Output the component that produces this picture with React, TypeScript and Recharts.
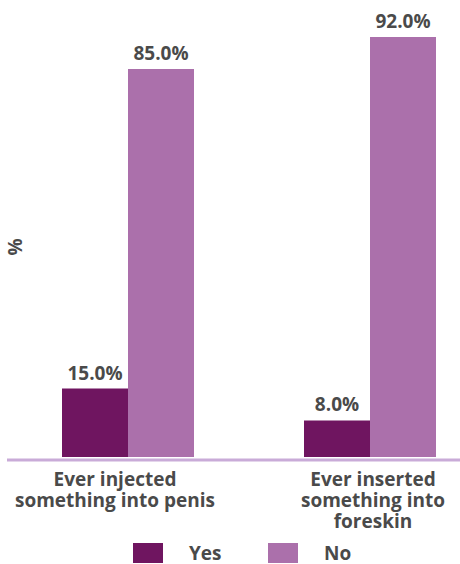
import React from 'react';
import { BarChart, Bar, XAxis, YAxis, Legend, LabelList, Label } from 'recharts';

const categoryLines: string[][] = [
  ['Ever injected', 'something into penis'],
  ['Ever inserted', 'something into', 'foreskin'],
];
const categories = categoryLines.map((l) => l.join(' '));
const yesValues = [15, 8];
const noValues = [85, 92];
const seriesNames = ['Yes', 'No'];
const yDomain = [0, 92];

const COLORS = { yes: '#6f1560', no: '#ab70ab' };
const TEXT = '#4a4a4a';
const FONT = '"Open Sans", "Noto Sans", sans-serif';
const TICK_SHIFT = [-13, 3];

const data = categories.map((c, i) => ({ category: c, yes: yesValues[i], no: noValues[i] }));

const CategoryTick = (props: any) => {
  const { x, y, payload, index } = props;
  const lines = categoryLines[index ?? payload.index] || [payload.value];
  return (
    <g transform={`translate(${x + (TICK_SHIFT[index] || 0)},${y})`}>
      <text textAnchor="middle" fontFamily={FONT} fontWeight={700} fontSize={19} fill={TEXT}>
        {lines.map((l, i) => (
          <tspan key={i} x={0} y={29 + i * 21}>
            {l}
          </tspan>
        ))}
      </text>
    </g>
  );
};

const LegendContent = (props: any) => {
  const payload = [...(props.payload || [])].sort(
    (a: any, b: any) => seriesNames.indexOf(a.value) - seriesNames.indexOf(b.value)
  );
  return (
    <div style={{ display: 'flex', paddingLeft: 133, height: 22, alignItems: 'center', fontFamily: FONT }}>
      {payload.map((p: any, i: number) => (
        <div key={i} style={{ display: 'flex', alignItems: 'center', width: 135, height: 22 }}>
          <div style={{ width: 30, height: 20, background: p.color, marginRight: 26 }} />
          <span style={{ fontSize: 19, lineHeight: '20px', fontWeight: 700, color: TEXT }}>{p.value}</span>
        </div>
      ))}
    </div>
  );
};

const fmt = (v: any) => `${Number(v).toFixed(1)}%`;

export default function App() {
  return (
    <div style={{ position: 'absolute', left: 0, top: 0, width: 460, height: 564, overflow: 'hidden', background: '#fff' }}>
      <BarChart
        width={500}
        height={564}
        data={data}
        margin={{ top: 37, right: 9, bottom: 0, left: 0 }}
        barGap={0}
      >
        <XAxis
          dataKey="category"
          tickLine={false}
          tickSize={0}
          tickMargin={0}
          height={85}
          interval={0}
          axisLine={{ stroke: '#c9abd8', strokeWidth: 3, transform: 'translate(0,3)' }}
          tick={<CategoryTick />}
        />
        <YAxis width={7} domain={yDomain} tick={false} axisLine={false} tickLine={false}>
          <Label
            value="%"
            angle={-90}
            position="center"
            dx={12}
            style={{ fontFamily: FONT, fontWeight: 700, fontSize: 19, fill: TEXT }}
          />
        </YAxis>
        <Legend
          verticalAlign="bottom"
          height={22}
          wrapperStyle={{ left: 0, bottom: 0, width: 460 }}
          content={<LegendContent />}
        />
        <Bar dataKey="yes" name={seriesNames[0]} fill={COLORS.yes} barSize={66} isAnimationActive={false}>
          <LabelList
            dataKey="yes"
            position="top"
            offset={9}
            formatter={fmt}
            style={{ fontFamily: FONT, fontWeight: 700, fontSize: 19, fill: TEXT }}
          />
        </Bar>
        <Bar dataKey="no" name={seriesNames[1]} fill={COLORS.no} barSize={66} isAnimationActive={false}>
          <LabelList
            dataKey="no"
            position="top"
            offset={9}
            formatter={fmt}
            style={{ fontFamily: FONT, fontWeight: 700, fontSize: 19, fill: TEXT }}
          />
        </Bar>
      </BarChart>
    </div>
  );
}
